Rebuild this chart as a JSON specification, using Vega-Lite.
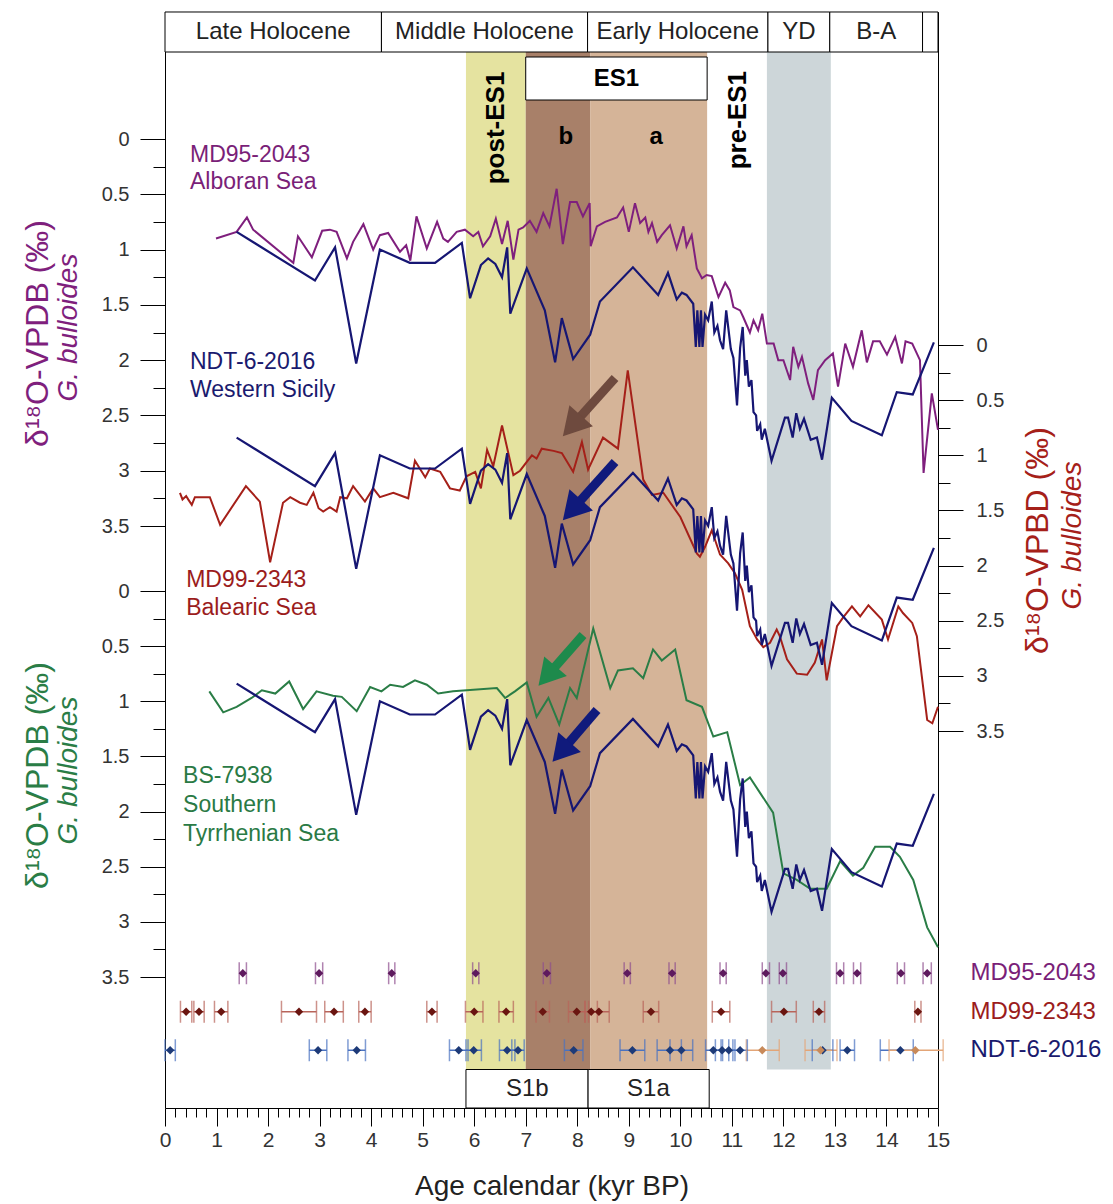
{
"$schema": "https://vega.github.io/schema/vega-lite/v6.json",
"width": 773, "height": 1096,
"autosize": {"type": "none"},
"padding": {"left": 165, "top": 12, "right": 175, "bottom": 96},
"background": "white",
"config": {"view": {"stroke": "black", "strokeWidth": 1}, "font": "Liberation Sans", "axis": {"labelFont": "Liberation Sans", "titleFont": "Liberation Sans"}, "text": {"font": "Liberation Sans"}},
"datasets": {
"bands": [{"band":"post-ES1","start":5.84,"end":7.0},{"band":"ES1 b","start":7.0,"end":8.25},{"band":"ES1 a","start":8.25,"end":10.52},{"band":"YD","start":11.68,"end":12.92}],
"periods": [{"period":"Late Holocene","start":0,"end":4.2,"mid":2.1},{"period":"Middle Holocene","start":4.2,"end":8.2,"mid":6.2},{"period":"Early Holocene","start":8.2,"end":11.7,"mid":9.95},{"period":"YD","start":11.7,"end":12.9,"mid":12.3},{"period":"B-A","start":12.9,"end":14.7,"mid":13.8},{"period":"","start":14.7,"end":15,"mid":14.85}],
"es1": [{"label":"ES1","start":7.0,"end":10.52}],
"phaseH": [{"label":"ES1","age":8.76,"pos":-0.543},{"label":"b","age":7.78,"pos":-0.02},{"label":"a","age":9.53,"pos":-0.02}],
"phaseV": [{"label":"post-ES1","age":6.42,"pos":-0.1},{"label":"pre-ES1","age":11.12,"pos":-0.17}],
"md95": [{"age":0.99,"d18O":0.90},{"age":1.39,"d18O":0.84},{"age":1.59,"d18O":0.71},{"age":1.71,"d18O":0.82},{"age":2.49,"d18O":1.12},{"age":2.58,"d18O":0.88},{"age":2.85,"d18O":1.07},{"age":3.05,"d18O":0.83},{"age":3.20,"d18O":0.82},{"age":3.33,"d18O":0.84},{"age":3.53,"d18O":1.08},{"age":3.65,"d18O":0.93},{"age":3.85,"d18O":0.77},{"age":4.04,"d18O":1.00},{"age":4.17,"d18O":0.87},{"age":4.33,"d18O":0.85},{"age":4.56,"d18O":1.02},{"age":4.68,"d18O":0.96},{"age":4.76,"d18O":1.10},{"age":4.88,"d18O":0.70},{"age":5.08,"d18O":0.99},{"age":5.28,"d18O":0.75},{"age":5.40,"d18O":0.90},{"age":5.49,"d18O":0.93},{"age":5.66,"d18O":0.84},{"age":5.82,"d18O":0.82},{"age":5.98,"d18O":0.88},{"age":6.08,"d18O":0.84},{"age":6.17,"d18O":0.97},{"age":6.31,"d18O":0.88},{"age":6.42,"d18O":0.72},{"age":6.54,"d18O":0.95},{"age":6.65,"d18O":0.74},{"age":6.76,"d18O":1.09},{"age":6.86,"d18O":0.82},{"age":6.95,"d18O":0.80},{"age":7.08,"d18O":0.74},{"age":7.21,"d18O":0.84},{"age":7.34,"d18O":0.67},{"age":7.46,"d18O":0.79},{"age":7.60,"d18O":0.45},{"age":7.72,"d18O":0.95},{"age":7.86,"d18O":0.57},{"age":7.99,"d18O":0.57},{"age":8.11,"d18O":0.70},{"age":8.24,"d18O":0.58},{"age":8.26,"d18O":0.97},{"age":8.38,"d18O":0.79},{"age":8.54,"d18O":0.75},{"age":8.77,"d18O":0.71},{"age":8.89,"d18O":0.62},{"age":9.00,"d18O":0.84},{"age":9.12,"d18O":0.58},{"age":9.22,"d18O":0.76},{"age":9.32,"d18O":0.71},{"age":9.38,"d18O":0.84},{"age":9.45,"d18O":0.76},{"age":9.55,"d18O":0.93},{"age":9.64,"d18O":0.87},{"age":9.80,"d18O":0.78},{"age":9.93,"d18O":0.99},{"age":10.06,"d18O":0.79},{"age":10.12,"d18O":0.97},{"age":10.22,"d18O":0.87},{"age":10.32,"d18O":1.17},{"age":10.42,"d18O":1.26},{"age":10.51,"d18O":1.23},{"age":10.61,"d18O":1.24},{"age":10.74,"d18O":1.43},{"age":10.87,"d18O":1.30},{"age":10.96,"d18O":1.37},{"age":11.03,"d18O":1.52},{"age":11.16,"d18O":1.55},{"age":11.22,"d18O":1.61},{"age":11.35,"d18O":1.75},{"age":11.42,"d18O":1.64},{"age":11.51,"d18O":1.73},{"age":11.59,"d18O":1.58},{"age":11.68,"d18O":1.85},{"age":11.81,"d18O":1.85},{"age":11.90,"d18O":2.00},{"age":12.00,"d18O":2.00},{"age":12.13,"d18O":2.18},{"age":12.19,"d18O":1.88},{"age":12.29,"d18O":2.06},{"age":12.36,"d18O":1.97},{"age":12.48,"d18O":2.21},{"age":12.58,"d18O":2.36},{"age":12.67,"d18O":2.09},{"age":12.81,"d18O":2.00},{"age":12.96,"d18O":1.94},{"age":13.06,"d18O":2.24},{"age":13.20,"d18O":1.85},{"age":13.35,"d18O":2.06},{"age":13.52,"d18O":1.73},{"age":13.62,"d18O":2.02},{"age":13.74,"d18O":1.83},{"age":13.87,"d18O":1.83},{"age":14.01,"d18O":1.95},{"age":14.17,"d18O":1.79},{"age":14.30,"d18O":2.03},{"age":14.37,"d18O":1.83},{"age":14.50,"d18O":1.85},{"age":14.65,"d18O":2.00},{"age":14.72,"d18O":3.02},{"age":14.88,"d18O":2.30},{"age":15.0,"d18O":2.63}],
"md99": [{"age":0.29,"d18O":1.34},{"age":0.34,"d18O":1.40},{"age":0.41,"d18O":1.37},{"age":0.45,"d18O":1.40},{"age":0.52,"d18O":1.45},{"age":0.58,"d18O":1.38},{"age":0.87,"d18O":1.38},{"age":1.07,"d18O":1.63},{"age":1.57,"d18O":1.28},{"age":1.84,"d18O":1.42},{"age":2.04,"d18O":1.97},{"age":2.29,"d18O":1.43},{"age":2.43,"d18O":1.38},{"age":2.62,"d18O":1.43},{"age":2.75,"d18O":1.45},{"age":2.88,"d18O":1.34},{"age":2.98,"d18O":1.48},{"age":3.07,"d18O":1.51},{"age":3.20,"d18O":1.47},{"age":3.33,"d18O":1.51},{"age":3.40,"d18O":1.38},{"age":3.53,"d18O":1.39},{"age":3.65,"d18O":1.28},{"age":3.88,"d18O":1.42},{"age":4.04,"d18O":1.30},{"age":4.17,"d18O":1.38},{"age":4.43,"d18O":1.34},{"age":4.72,"d18O":1.39},{"age":4.85,"d18O":1.05},{"age":5.05,"d18O":1.20},{"age":5.14,"d18O":1.12},{"age":5.34,"d18O":1.15},{"age":5.53,"d18O":1.30},{"age":5.72,"d18O":1.32},{"age":5.85,"d18O":1.19},{"age":6.02,"d18O":1.15},{"age":6.13,"d18O":1.30},{"age":6.25,"d18O":0.95},{"age":6.37,"d18O":1.10},{"age":6.54,"d18O":0.73},{"age":6.76,"d18O":1.18},{"age":6.89,"d18O":1.14},{"age":7.02,"d18O":1.06},{"age":7.12,"d18O":1.00},{"age":7.21,"d18O":1.03},{"age":7.31,"d18O":0.94},{"age":7.54,"d18O":0.96},{"age":7.70,"d18O":0.98},{"age":7.92,"d18O":1.15},{"age":8.09,"d18O":0.88},{"age":8.21,"d18O":1.13},{"age":8.50,"d18O":0.84},{"age":8.79,"d18O":0.94},{"age":8.98,"d18O":0.23},{"age":9.28,"d18O":1.22},{"age":9.45,"d18O":1.36},{"age":9.67,"d18O":1.34},{"age":10.0,"d18O":1.56},{"age":10.32,"d18O":1.89},{"age":10.38,"d18O":1.92},{"age":10.48,"d18O":1.83},{"age":10.61,"d18O":1.68},{"age":10.77,"d18O":1.90},{"age":10.93,"d18O":1.98},{"age":11.06,"d18O":2.07},{"age":11.20,"d18O":2.22},{"age":11.35,"d18O":2.55},{"age":11.49,"d18O":2.67},{"age":11.61,"d18O":2.74},{"age":11.74,"d18O":2.70},{"age":11.87,"d18O":2.58},{"age":11.93,"d18O":2.64},{"age":12.07,"d18O":2.85},{"age":12.26,"d18O":2.98},{"age":12.46,"d18O":2.99},{"age":12.61,"d18O":2.88},{"age":12.75,"d18O":2.67},{"age":12.84,"d18O":3.04},{"age":13.04,"d18O":2.55},{"age":13.16,"d18O":2.47},{"age":13.33,"d18O":2.37},{"age":13.49,"d18O":2.46},{"age":13.65,"d18O":2.36},{"age":13.91,"d18O":2.49},{"age":14.03,"d18O":2.67},{"age":14.23,"d18O":2.37},{"age":14.32,"d18O":2.43},{"age":14.50,"d18O":2.52},{"age":14.59,"d18O":2.64},{"age":14.79,"d18O":3.40},{"age":14.89,"d18O":3.43},{"age":15.0,"d18O":3.28}],
"bs": [{"age":0.86,"d18O":0.91},{"age":1.13,"d18O":1.10},{"age":1.39,"d18O":1.05},{"age":1.68,"d18O":0.97},{"age":1.88,"d18O":0.90},{"age":2.14,"d18O":0.93},{"age":2.41,"d18O":0.82},{"age":2.68,"d18O":1.07},{"age":2.94,"d18O":0.91},{"age":3.26,"d18O":0.95},{"age":3.43,"d18O":0.96},{"age":3.72,"d18O":1.09},{"age":3.98,"d18O":0.87},{"age":4.20,"d18O":0.91},{"age":4.37,"d18O":0.85},{"age":4.62,"d18O":0.87},{"age":4.85,"d18O":0.81},{"age":5.08,"d18O":0.85},{"age":5.30,"d18O":0.93},{"age":5.59,"d18O":0.91},{"age":6.44,"d18O":0.88},{"age":6.60,"d18O":0.97},{"age":6.79,"d18O":0.91},{"age":7.02,"d18O":0.83},{"age":7.21,"d18O":1.14},{"age":7.44,"d18O":0.97},{"age":7.65,"d18O":1.21},{"age":7.86,"d18O":0.88},{"age":7.99,"d18O":0.97},{"age":8.31,"d18O":0.34},{"age":8.64,"d18O":0.88},{"age":8.79,"d18O":0.72},{"age":9.08,"d18O":0.70},{"age":9.28,"d18O":0.79},{"age":9.47,"d18O":0.53},{"age":9.64,"d18O":0.63},{"age":9.90,"d18O":0.53},{"age":10.12,"d18O":0.99},{"age":10.42,"d18O":1.05},{"age":10.64,"d18O":1.32},{"age":10.91,"d18O":1.28},{"age":11.16,"d18O":1.76},{"age":11.35,"d18O":1.69},{"age":11.80,"d18O":2.01},{"age":12.00,"d18O":2.56},{"age":12.26,"d18O":2.62},{"age":12.52,"d18O":2.70},{"age":12.84,"d18O":2.70},{"age":13.10,"d18O":2.45},{"age":13.35,"d18O":2.58},{"age":13.55,"d18O":2.51},{"age":13.78,"d18O":2.32},{"age":14.07,"d18O":2.32},{"age":14.26,"d18O":2.41},{"age":14.52,"d18O":2.62},{"age":14.79,"d18O":3.05},{"age":15.0,"d18O":3.23}],
"ndt": [{"age":1.39,"d18O":0.84},{"age":2.91,"d18O":1.28},{"age":3.30,"d18O":0.98},{"age":3.71,"d18O":2.03},{"age":4.17,"d18O":1.00},{"age":4.75,"d18O":1.12},{"age":5.24,"d18O":1.12},{"age":5.76,"d18O":0.94},{"age":5.92,"d18O":1.44},{"age":6.13,"d18O":1.14},{"age":6.27,"d18O":1.08},{"age":6.41,"d18O":1.13},{"age":6.54,"d18O":1.25},{"age":6.64,"d18O":0.98},{"age":6.70,"d18O":1.58},{"age":7.02,"d18O":1.17},{"age":7.37,"d18O":1.55},{"age":7.57,"d18O":2.02},{"age":7.70,"d18O":1.62},{"age":7.92,"d18O":1.99},{"age":8.25,"d18O":1.77},{"age":8.44,"d18O":1.47},{"age":9.08,"d18O":1.16},{"age":9.57,"d18O":1.41},{"age":9.76,"d18O":1.21},{"age":9.93,"d18O":1.45},{"age":10.03,"d18O":1.39},{"age":10.12,"d18O":1.41},{"age":10.25,"d18O":1.49},{"age":10.30,"d18O":1.88},{"age":10.33,"d18O":1.55},{"age":10.37,"d18O":1.88},{"age":10.40,"d18O":1.55},{"age":10.43,"d18O":1.88},{"age":10.48,"d18O":1.59},{"age":10.54,"d18O":1.64},{"age":10.61,"d18O":1.47},{"age":10.66,"d18O":1.75},{"age":10.72,"d18O":1.69},{"age":10.77,"d18O":1.82},{"age":10.83,"d18O":1.90},{"age":10.89,"d18O":1.55},{"age":10.98,"d18O":1.90},{"age":11.03,"d18O":1.98},{"age":11.10,"d18O":2.41},{"age":11.16,"d18O":1.89},{"age":11.21,"d18O":1.70},{"age":11.26,"d18O":2.14},{"age":11.29,"d18O":2.00},{"age":11.33,"d18O":2.24},{"age":11.38,"d18O":2.18},{"age":11.42,"d18O":2.47},{"age":11.47,"d18O":2.50},{"age":11.49,"d18O":2.64},{"age":11.55,"d18O":2.58},{"age":11.58,"d18O":2.72},{"age":11.64,"d18O":2.62},{"age":11.77,"d18O":2.91},{"age":12.03,"d18O":2.52},{"age":12.09,"d18O":2.52},{"age":12.18,"d18O":2.70},{"age":12.25,"d18O":2.48},{"age":12.32,"d18O":2.62},{"age":12.40,"d18O":2.53},{"age":12.53,"d18O":2.72},{"age":12.65,"d18O":2.70},{"age":12.75,"d18O":2.90},{"age":12.94,"d18O":2.34},{"age":13.32,"d18O":2.55},{"age":13.91,"d18O":2.68},{"age":14.20,"d18O":2.29},{"age":14.51,"d18O":2.31},{"age":14.92,"d18O":1.84}],
"labelsP": [{"text":"MD95-2043","series":"MD95-2043","age":0.485,"pos":0.145},{"text":"Alboran Sea","series":"MD95-2043","age":0.485,"pos":0.389},{"text":"NDT-6-2016","series":"NDT-6-2016","age":0.485,"pos":2.017},{"text":"Western Sicily","series":"NDT-6-2016","age":0.485,"pos":2.27}],
"labelsR": [{"text":"MD99-2343","age":0.41,"pos":2.131},{"text":"Balearic Sea","age":0.41,"pos":2.385}],
"labelsG": [{"text":"BS-7938","age":0.35,"pos":1.677},{"text":"Southern","age":0.35,"pos":1.94},{"text":"Tyrrhenian Sea","age":0.35,"pos":2.203}],
"arrowsR": [{"series":"MD99-2343","a0":8.733,"v0":0.299,"a1":7.898,"v1":0.734},{"series":"NDT-6-2016","a0":8.733,"v0":1.061,"a1":7.898,"v1":1.496}],
"arrowsG": [{"series":"BS-7938","a0":8.112,"v0":0.399,"a1":7.413,"v1":0.771},{"series":"NDT-6-2016","a0":8.383,"v0":1.079,"a1":7.685,"v1":1.46}],
"dates": [
{"row":"MD95-2043","src":"MD95-2043","age":1.51,"lo":1.44,"hi":1.58},{"row":"MD95-2043","src":"MD95-2043","age":2.99,"lo":2.92,"hi":3.06},{"row":"MD95-2043","src":"MD95-2043","age":4.40,"lo":4.34,"hi":4.46},{"row":"MD95-2043","src":"MD95-2043","age":6.03,"lo":5.97,"hi":6.09},{"row":"MD95-2043","src":"MD95-2043","age":7.41,"lo":7.34,"hi":7.48},{"row":"MD95-2043","src":"MD95-2043","age":8.97,"lo":8.91,"hi":9.03},{"row":"MD95-2043","src":"MD95-2043","age":9.84,"lo":9.78,"hi":9.90},{"row":"MD95-2043","src":"MD95-2043","age":10.83,"lo":10.77,"hi":10.89},{"row":"MD95-2043","src":"MD95-2043","age":11.66,"lo":11.59,"hi":11.73},{"row":"MD95-2043","src":"MD95-2043","age":11.99,"lo":11.92,"hi":12.06},{"row":"MD95-2043","src":"MD95-2043","age":13.10,"lo":13.03,"hi":13.17},{"row":"MD95-2043","src":"MD95-2043","age":13.43,"lo":13.36,"hi":13.50},{"row":"MD95-2043","src":"MD95-2043","age":14.28,"lo":14.21,"hi":14.35},{"row":"MD95-2043","src":"MD95-2043","age":14.79,"lo":14.71,"hi":14.87},
{"row":"MD99-2343","src":"MD99-2343","age":0.41,"lo":0.30,"hi":0.52},{"row":"MD99-2343","src":"MD99-2343","age":0.66,"lo":0.56,"hi":0.76},{"row":"MD99-2343","src":"MD99-2343","age":1.09,"lo":0.96,"hi":1.22},{"row":"MD99-2343","src":"MD99-2343","age":2.60,"lo":2.26,"hi":2.94},{"row":"MD99-2343","src":"MD99-2343","age":3.28,"lo":3.10,"hi":3.46},{"row":"MD99-2343","src":"MD99-2343","age":3.88,"lo":3.76,"hi":4.00},{"row":"MD99-2343","src":"MD99-2343","age":5.18,"lo":5.08,"hi":5.28},{"row":"MD99-2343","src":"MD99-2343","age":6.00,"lo":5.83,"hi":6.17},{"row":"MD99-2343","src":"MD99-2343","age":6.62,"lo":6.48,"hi":6.76},{"row":"MD99-2343","src":"MD99-2343","age":7.33,"lo":7.20,"hi":7.46},{"row":"MD99-2343","src":"MD99-2343","age":7.99,"lo":7.83,"hi":8.15},{"row":"MD99-2343","src":"MD99-2343","age":8.27,"lo":8.15,"hi":8.39},{"row":"MD99-2343","src":"MD99-2343","age":8.42,"lo":8.22,"hi":8.62},{"row":"MD99-2343","src":"MD99-2343","age":9.43,"lo":9.28,"hi":9.58},{"row":"MD99-2343","src":"MD99-2343","age":10.79,"lo":10.62,"hi":10.96},{"row":"MD99-2343","src":"MD99-2343","age":12.01,"lo":11.77,"hi":12.25},{"row":"MD99-2343","src":"MD99-2343","age":12.69,"lo":12.58,"hi":12.80},{"row":"MD99-2343","src":"MD99-2343","age":14.61,"lo":14.55,"hi":14.67},
{"row":"NDT-6-2016","src":"NDT-6-2016","age":0.10,"lo":0.0,"hi":0.20},{"row":"NDT-6-2016","src":"NDT-6-2016","age":2.97,"lo":2.80,"hi":3.14},{"row":"NDT-6-2016","src":"NDT-6-2016","age":3.72,"lo":3.55,"hi":3.89},{"row":"NDT-6-2016","src":"NDT-6-2016","age":5.70,"lo":5.52,"hi":5.88},{"row":"NDT-6-2016","src":"NDT-6-2016","age":5.99,"lo":5.84,"hi":6.14},{"row":"NDT-6-2016","src":"NDT-6-2016","age":6.64,"lo":6.49,"hi":6.79},{"row":"NDT-6-2016","src":"NDT-6-2016","age":6.85,"lo":6.73,"hi":6.97},{"row":"NDT-6-2016","src":"NDT-6-2016","age":7.93,"lo":7.75,"hi":8.11},{"row":"NDT-6-2016","src":"NDT-6-2016","age":9.07,"lo":8.83,"hi":9.31},{"row":"NDT-6-2016","src":"NDT-6-2016","age":9.80,"lo":9.55,"hi":10.02},{"row":"NDT-6-2016","src":"NDT-6-2016","age":10.02,"lo":9.80,"hi":10.24},{"row":"NDT-6-2016","src":"NDT-6-2016","age":10.64,"lo":10.49,"hi":10.79},{"row":"NDT-6-2016","src":"NDT-6-2016","age":10.81,"lo":10.68,"hi":10.94},{"row":"NDT-6-2016","src":"NDT-6-2016","age":10.94,"lo":10.82,"hi":11.06},{"row":"NDT-6-2016","src":"NDT-6-2016","age":11.16,"lo":11.02,"hi":11.30},{"row":"NDT-6-2016","src":"NDT-6-2016","age":12.76,"lo":12.56,"hi":12.96},{"row":"NDT-6-2016","src":"NDT-6-2016","age":13.24,"lo":13.10,"hi":13.38},{"row":"NDT-6-2016","src":"NDT-6-2016","age":14.27,"lo":13.88,"hi":14.52},
{"row":"NDT-6-2016","src":"NDT-6-2016*","age":11.59,"lo":11.28,"hi":11.92},{"row":"NDT-6-2016","src":"NDT-6-2016*","age":12.72,"lo":12.42,"hi":13.04},{"row":"NDT-6-2016","src":"NDT-6-2016*","age":14.56,"lo":14.05,"hi":15.1}],
"s1": [{"label":"S1b","row":"S1","start":5.84,"end":8.21,"mid":7.03},{"label":"S1a","row":"S1","start":8.21,"end":10.56,"mid":9.38}]
},
"layer": [
{"data":{"name":"bands"},"mark":{"type":"rect"},
 "encoding":{
  "x":{"field":"start","type":"quantitative","scale":{"domain":[0,15],"nice":false,"zero":false},
   "axis":{"orient":"bottom","values":[0,0.2,0.4,0.6,0.8,1,1.2,1.4,1.6,1.8,2,2.2,2.4,2.6,2.8,3,3.2,3.4,3.6,3.8,4,4.2,4.4,4.6,4.8,5,5.2,5.4,5.6,5.8,6,6.2,6.4,6.6,6.8,7,7.2,7.4,7.6,7.8,8,8.2,8.4,8.6,8.8,9,9.2,9.4,9.6,9.8,10,10.2,10.4,10.6,10.8,11,11.2,11.4,11.6,11.8,12,12.2,12.4,12.6,12.8,13,13.2,13.4,13.6,13.8,14,14.2,14.4,14.6,14.8,15],
    "domain":false,"grid":false,"tickColor":"black","tickWidth":1,
    "tickSize":{"condition":{"test":"datum.value % 1 === 0","value":18},"value":9},
    "labelExpr":"datum.value % 1 === 0 ? format(datum.value, 'd') : ''",
    "labelFontSize":21,"labelColor":"#333333","labelPadding":3,"labelOverlap":false,"labelFlush":false,
    "title":"Age calendar (kyr BP)","titleFontSize":28,"titleFontWeight":"normal","titleColor":"#222222","titlePadding":22}},
  "x2":{"field":"end"},
  "y":{"datum":-0.7868,"type":"quantitative","scale":{"domain":[0,3.5],"range":[127,514],"nice":false,"zero":false},"axis":null},
  "y2":{"datum":8.4155},
  "color":{"field":"band","type":"nominal","scale":{"domain":["post-ES1","ES1 b","ES1 a","YD"],"range":["#e5e3a0","#a88069","#d5b498","#cdd6d9"]},"legend":null}}},
{"data":{"name":"periods"},"mark":{"type":"rect","fill":"white","stroke":"black","strokeWidth":1},
 "encoding":{
  "x":{"field":"start","type":"quantitative","axis":null},"x2":{"field":"end"},
  "y":{"datum":-1.1486,"type":"quantitative","scale":{"domain":[0,3.5],"range":[127,514],"nice":false,"zero":false},"axis":null},
  "y2":{"datum":-0.7868}}},
{"data":{"name":"periods"},"mark":{"type":"text","fontSize":24,"color":"#222222","align":"center","baseline":"middle"},
 "encoding":{
  "x":{"field":"mid","type":"quantitative","axis":null},
  "y":{"datum":-0.968,"type":"quantitative","scale":{"domain":[0,3.5],"range":[127,514],"nice":false,"zero":false},"axis":null},
  "text":{"field":"period"}}},
{"data":{"name":"es1"},"mark":{"type":"rect","fill":"white","stroke":"black","strokeWidth":1},
 "encoding":{
  "x":{"field":"start","type":"quantitative","axis":null},"x2":{"field":"end"},
  "y":{"datum":-0.7416,"type":"quantitative","scale":{"domain":[0,3.5],"range":[127,514],"nice":false,"zero":false},"axis":null},
  "y2":{"datum":-0.3527}}},
{"data":{"name":"phaseH"},"mark":{"type":"text","fontSize":24,"fontWeight":"bold","color":"black","align":"center","baseline":"middle"},
 "encoding":{
  "x":{"field":"age","type":"quantitative","axis":null},
  "y":{"field":"pos","type":"quantitative","scale":{"domain":[0,3.5],"range":[127,514],"nice":false,"zero":false},"axis":null},
  "text":{"field":"label"}}},
{"data":{"name":"phaseV"},"mark":{"type":"text","fontSize":26,"fontWeight":"bold","color":"black","align":"center","baseline":"middle","angle":270},
 "encoding":{
  "x":{"field":"age","type":"quantitative","axis":null},
  "y":{"field":"pos","type":"quantitative","scale":{"domain":[0,3.5],"range":[127,514],"nice":false,"zero":false},"axis":null},
  "text":{"field":"label"}}},
{"data":{"name":"md95"},"mark":{"type":"line","color":"#7f1f7d","strokeWidth":2},
 "encoding":{
  "x":{"field":"age","type":"quantitative","axis":null},
  "y":{"field":"d18O","type":"quantitative","scale":{"domain":[0,3.5],"range":[127,514],"nice":false,"zero":false},
   "axis":{"orient":"left","values":[0,0.25,0.5,0.75,1,1.25,1.5,1.75,2,2.25,2.5,2.75,3,3.25,3.5],"domain":false,"grid":false,"tickColor":"black",
    "tickSize":{"condition":{"test":"(datum.value * 2) % 1 === 0","value":25},"value":12},
    "labelExpr":"(datum.value * 2) % 1 === 0 ? '' + datum.value : ''","labelFontSize":20,"labelColor":"#333333","labelPadding":11,"labelOverlap":false,"labelFlush":false,
    "title":"δ¹⁸O-VPDB (‰)","titleColor":"#7f1f7d","titleFontSize":32,"titleFontWeight":"normal","titleX":-128,"titleY":321,"titleAngle":270,"titleAlign":"center","titleBaseline":"middle"}}}},
{"data":{"name":"md99"},"mark":{"type":"line","color":"#a52019","strokeWidth":2},
 "encoding":{
  "x":{"field":"age","type":"quantitative","axis":null},
  "y":{"field":"d18O","type":"quantitative","scale":{"domain":[0,3.5],"range":[333,719],"nice":false,"zero":false},
   "axis":{"orient":"right","values":[0,0.25,0.5,0.75,1,1.25,1.5,1.75,2,2.25,2.5,2.75,3,3.25,3.5],"domain":false,"grid":false,"tickColor":"black",
    "tickSize":{"condition":{"test":"(datum.value * 2) % 1 === 0","value":25},"value":12},
    "labelExpr":"(datum.value * 2) % 1 === 0 ? '' + datum.value : ''","labelFontSize":20,"labelColor":"#333333","labelPadding":13,"labelOverlap":false,"labelFlush":false,
    "title":"δ¹⁸O-VPBD (‰)","titleColor":"#a52019","titleFontSize":32,"titleFontWeight":"normal","titleX":99,"titleY":528,"titleAngle":270,"titleAlign":"center","titleBaseline":"middle"}}}},
{"data":{"name":"bs"},"mark":{"type":"line","color":"#2a7d46","strokeWidth":2},
 "encoding":{
  "x":{"field":"age","type":"quantitative","axis":null},
  "y":{"field":"d18O","type":"quantitative","scale":{"domain":[0,3.5],"range":[579,965],"nice":false,"zero":false},
   "axis":{"orient":"left","values":[0,0.25,0.5,0.75,1,1.25,1.5,1.75,2,2.25,2.5,2.75,3,3.25,3.5],"domain":false,"grid":false,"tickColor":"black",
    "tickSize":{"condition":{"test":"(datum.value * 2) % 1 === 0","value":25},"value":12},
    "labelExpr":"(datum.value * 2) % 1 === 0 ? '' + datum.value : ''","labelFontSize":20,"labelColor":"#333333","labelPadding":11,"labelOverlap":false,"labelFlush":false,
    "title":"δ¹⁸O-VPDB (‰)","titleColor":"#2a7d46","titleFontSize":32,"titleFontWeight":"normal","titleX":-128,"titleY":763,"titleAngle":270,"titleAlign":"center","titleBaseline":"middle"}}}},
{"data":{"name":"ndt"},"mark":{"type":"line","color":"#161673","strokeWidth":2.2},
 "encoding":{
  "x":{"field":"age","type":"quantitative","axis":null},
  "y":{"field":"d18O","type":"quantitative","scale":{"domain":[0,3.5],"range":[127,514],"nice":false,"zero":false},
   "axis":{"orient":"left","domain":false,"ticks":false,"labels":false,"grid":false,"title":"G. bulloides","titleColor":"#7f1f7d","titleFontSize":28,"titleFontStyle":"italic","titleFontWeight":"normal","titleX":-97,"titleY":315,"titleAngle":270,"titleAlign":"center","titleBaseline":"middle"}}}},
{"data":{"name":"ndt"},"mark":{"type":"line","color":"#161673","strokeWidth":2.2},
 "encoding":{
  "x":{"field":"age","type":"quantitative","axis":null},
  "y":{"field":"d18O","type":"quantitative","scale":{"domain":[0,3.5],"range":[333,719],"nice":false,"zero":false},
   "axis":{"orient":"right","domain":false,"ticks":false,"labels":false,"grid":false,"title":"G. bulloides","titleColor":"#a52019","titleFontSize":28,"titleFontStyle":"italic","titleFontWeight":"normal","titleX":134,"titleY":523,"titleAngle":270,"titleAlign":"center","titleBaseline":"middle"}}}},
{"data":{"name":"ndt"},"mark":{"type":"line","color":"#161673","strokeWidth":2.2},
 "encoding":{
  "x":{"field":"age","type":"quantitative","axis":null},
  "y":{"field":"d18O","type":"quantitative","scale":{"domain":[0,3.5],"range":[579,965],"nice":false,"zero":false},
   "axis":{"orient":"left","domain":false,"ticks":false,"labels":false,"grid":false,"title":"G. bulloides","titleColor":"#2a7d46","titleFontSize":28,"titleFontStyle":"italic","titleFontWeight":"normal","titleX":-97,"titleY":758,"titleAngle":270,"titleAlign":"center","titleBaseline":"middle"}}}},
{"data":{"name":"arrowsR"},"mark":{"type":"rule","strokeWidth":9,"strokeCap":"butt"},
 "encoding":{
  "x":{"field":"a0","type":"quantitative","axis":null},"x2":{"field":"a1"},
  "y":{"field":"v0","type":"quantitative","scale":{"domain":[0,3.5],"range":[333,719],"nice":false,"zero":false},"axis":null},"y2":{"field":"v1"},
  "color":{"field":"series","type":"nominal","scale":{"domain":["MD99-2343","NDT-6-2016"],"range":["#6e4a3e","#101a7c"]},"legend":null}}},
{"data":{"name":"arrowsR"},"mark":{"type":"point","shape":"triangle-up","filled":true,"size":1000,"angle":222,"opacity":1},
 "encoding":{
  "x":{"field":"a1","type":"quantitative","axis":null},
  "y":{"field":"v1","type":"quantitative","scale":{"domain":[0,3.5],"range":[333,719],"nice":false,"zero":false},"axis":null},
  "color":{"field":"series","type":"nominal","scale":{"domain":["MD99-2343","NDT-6-2016"],"range":["#6e4a3e","#101a7c"]},"legend":null}}},
{"data":{"name":"arrowsG"},"mark":{"type":"rule","strokeWidth":9,"strokeCap":"butt"},
 "encoding":{
  "x":{"field":"a0","type":"quantitative","axis":null},"x2":{"field":"a1"},
  "y":{"field":"v0","type":"quantitative","scale":{"domain":[0,3.5],"range":[579,965],"nice":false,"zero":false},"axis":null},"y2":{"field":"v1"},
  "color":{"field":"series","type":"nominal","scale":{"domain":["BS-7938","NDT-6-2016"],"range":["#1e8a4c","#101a7c"]},"legend":null}}},
{"data":{"name":"arrowsG"},"mark":{"type":"point","shape":"triangle-up","filled":true,"size":900,"angle":221,"opacity":1},
 "encoding":{
  "x":{"field":"a1","type":"quantitative","axis":null},
  "y":{"field":"v1","type":"quantitative","scale":{"domain":[0,3.5],"range":[579,965],"nice":false,"zero":false},"axis":null},
  "color":{"field":"series","type":"nominal","scale":{"domain":["BS-7938","NDT-6-2016"],"range":["#1e8a4c","#101a7c"]},"legend":null}}},
{"data":{"name":"labelsP"},"mark":{"type":"text","fontSize":23,"align":"left","baseline":"middle"},
 "encoding":{
  "x":{"field":"age","type":"quantitative","axis":null},
  "y":{"field":"pos","type":"quantitative","scale":{"domain":[0,3.5],"range":[127,514],"nice":false,"zero":false},"axis":null},
  "text":{"field":"text"},
  "color":{"field":"series","type":"nominal","scale":{"domain":["MD95-2043","NDT-6-2016"],"range":["#7a1f78","#1a1a6e"]},"legend":null}}},
{"data":{"name":"labelsR"},"mark":{"type":"text","fontSize":23,"align":"left","baseline":"middle","color":"#9b1c1c"},
 "encoding":{
  "x":{"field":"age","type":"quantitative","axis":null},
  "y":{"field":"pos","type":"quantitative","scale":{"domain":[0,3.5],"range":[333,719],"nice":false,"zero":false},"axis":null},
  "text":{"field":"text"}}},
{"data":{"name":"labelsG"},"mark":{"type":"text","fontSize":23,"align":"left","baseline":"middle","color":"#2a7a45"},
 "encoding":{
  "x":{"field":"age","type":"quantitative","axis":null},
  "y":{"field":"pos","type":"quantitative","scale":{"domain":[0,3.5],"range":[579,965],"nice":false,"zero":false},"axis":null},
  "text":{"field":"text"}}},
{"data":{"name":"dates"},"mark":{"type":"rule","strokeWidth":1.5},
 "encoding":{
  "x":{"field":"lo","type":"quantitative","axis":null},"x2":{"field":"hi"},
  "y":{"field":"row","type":"nominal","scale":{"type":"band","domain":["MD95-2043","MD99-2343","NDT-6-2016","S1"],"range":[942,1096],"paddingInner":0,"paddingOuter":0},"axis":null},
  "color":{"field":"src","type":"nominal","scale":{"domain":["MD95-2043","MD99-2343","NDT-6-2016","NDT-6-2016*"],"range":["#8f4f8f","#b8645a","#4a72c0","#e3a577"]},"legend":null}}},
{"data":{"name":"dates"},"mark":{"type":"tick","size":22,"thickness":1.5},
 "encoding":{
  "x":{"field":"lo","type":"quantitative","axis":null},
  "y":{"field":"row","type":"nominal","scale":{"type":"band","domain":["MD95-2043","MD99-2343","NDT-6-2016","S1"],"range":[942,1096],"paddingInner":0,"paddingOuter":0},"axis":null},
  "color":{"field":"src","type":"nominal","scale":{"domain":["MD95-2043","MD99-2343","NDT-6-2016","NDT-6-2016*"],"range":["#8f4f8f","#b8645a","#4a72c0","#e3a577"]},"legend":null}}},
{"data":{"name":"dates"},"mark":{"type":"tick","size":22,"thickness":1.5},
 "encoding":{
  "x":{"field":"hi","type":"quantitative","axis":null},
  "y":{"field":"row","type":"nominal","scale":{"type":"band","domain":["MD95-2043","MD99-2343","NDT-6-2016","S1"],"range":[942,1096],"paddingInner":0,"paddingOuter":0},"axis":null},
  "color":{"field":"src","type":"nominal","scale":{"domain":["MD95-2043","MD99-2343","NDT-6-2016","NDT-6-2016*"],"range":["#8f4f8f","#b8645a","#4a72c0","#e3a577"]},"legend":null}}},
{"data":{"name":"dates"},"mark":{"type":"point","shape":"diamond","filled":true,"size":70,"opacity":1},
 "encoding":{
  "x":{"field":"age","type":"quantitative","axis":null},
  "y":{"field":"row","type":"nominal","scale":{"type":"band","domain":["MD95-2043","MD99-2343","NDT-6-2016","S1"],"range":[942,1096],"paddingInner":0,"paddingOuter":0},
   "axis":{"orient":"right","domain":false,"ticks":false,"grid":false,"title":null,"labelPadding":32,"labelFontSize":24,"labelAlign":"left","labelBaseline":"middle",
    "labelExpr":"datum.value === 'S1' ? '' : datum.value",
    "labelColor":{"condition":[{"test":"datum.value === 'MD95-2043'","value":"#7a1f78"},{"test":"datum.value === 'MD99-2343'","value":"#9b1c1c"}],"value":"#1a1a6e"}}},
  "color":{"field":"src","type":"nominal","scale":{"domain":["MD95-2043","MD99-2343","NDT-6-2016","NDT-6-2016*"],"range":["#5e1a5e","#6a1510","#1d3a78","#c88a5a"]},"legend":null}}},
{"data":{"name":"s1"},"mark":{"type":"rect","fill":"white","stroke":"black","strokeWidth":1},
 "encoding":{
  "x":{"field":"start","type":"quantitative","axis":null},"x2":{"field":"end"},
  "y":{"field":"row","type":"nominal","scale":{"type":"band","domain":["MD95-2043","MD99-2343","NDT-6-2016","S1"],"range":[942,1096],"paddingInner":0,"paddingOuter":0},"axis":null}}},
{"data":{"name":"s1"},"mark":{"type":"text","fontSize":24,"color":"#222222","align":"center","baseline":"middle"},
 "encoding":{
  "x":{"field":"mid","type":"quantitative","axis":null},
  "y":{"field":"row","type":"nominal","scale":{"type":"band","domain":["MD95-2043","MD99-2343","NDT-6-2016","S1"],"range":[942,1096],"paddingInner":0,"paddingOuter":0},"axis":null},
  "text":{"field":"label"}}}
],
"resolve": {"scale": {"y": "independent", "color": "independent"}, "axis": {"x": "independent"}}
}
